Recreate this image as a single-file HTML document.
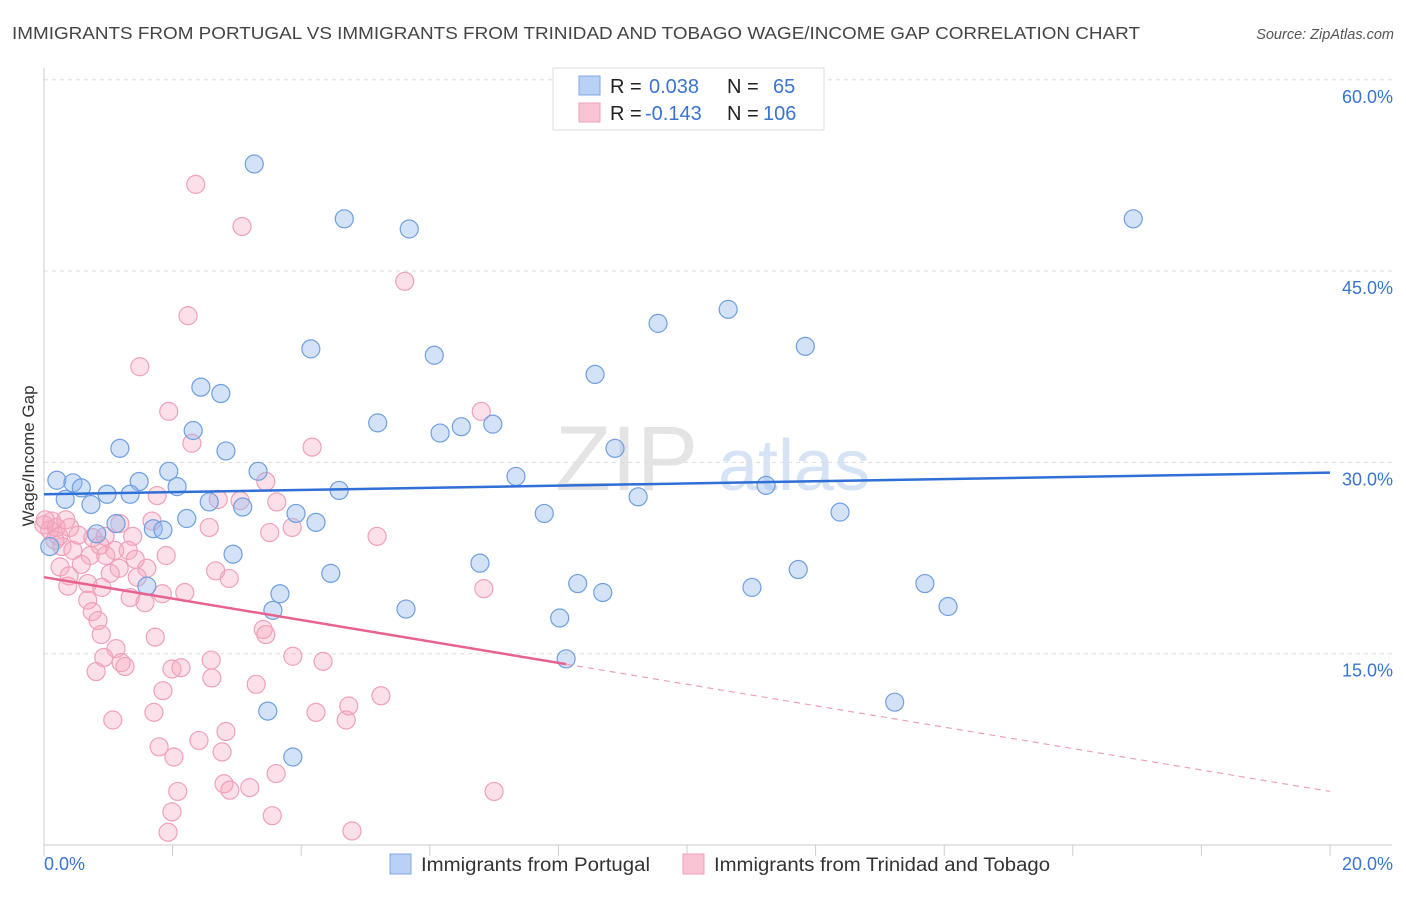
<!DOCTYPE html>
<html><head><meta charset="utf-8"><style>
body{margin:0;background:#fff;font-family:"Liberation Sans",sans-serif}
svg text{font-family:"Liberation Sans",sans-serif}
</style></head><body>
<svg id="chart" width="1406" height="892" viewBox="0 0 1406 892" xmlns="http://www.w3.org/2000/svg">
<text x="12" y="39" font-size="17.5" fill="#444" textLength="1128" lengthAdjust="spacingAndGlyphs">IMMIGRANTS FROM PORTUGAL VS IMMIGRANTS FROM TRINIDAD AND TOBAGO WAGE/INCOME GAP CORRELATION CHART</text>
<text x="1394" y="39" font-size="14.5" fill="#555" font-style="italic" text-anchor="end">Source: ZipAtlas.com</text>
<g>
<text x="555" y="490" font-size="92" font-family="Liberation Serif" fill="#e4e4e4">ZIP</text>
<text x="718" y="490" font-size="72" fill="#d6e3f4">atlas</text>
</g>
<g id="grid"></g><g id="axes"></g><g id="pts"></g><g id="trend"></g>
<text transform="translate(34,456) rotate(-90)" font-size="17" fill="#333" text-anchor="middle">Wage/Income Gap</text>
<g>
<rect x="553" y="68" width="271" height="62" fill="#fff" stroke="#ddd"/>
<rect x="579" y="76" width="21" height="19" fill="#b9d1f4" stroke="#7fa8e4"/>
<rect x="579" y="103" width="21" height="19" fill="#f9c4d4" stroke="#f0a0b8"/>
<text font-size="20" fill="#222"><tspan x="610" y="93">R = </tspan><tspan x="649" fill="#3a74d0">0.038</tspan><tspan x="727">N = </tspan><tspan x="773" fill="#3a74d0">65</tspan></text>
<text font-size="20" fill="#222"><tspan x="610" y="120">R = </tspan><tspan x="645" fill="#3a74d0">-0.143</tspan><tspan x="727">N = </tspan><tspan x="763" fill="#3a74d0">106</tspan></text>
</g>
<g>
<rect x="390" y="854" width="21" height="20" fill="#b9d1f4" stroke="#7fa8e4"/>
<text x="421" y="871" font-size="19" fill="#333" textLength="229" lengthAdjust="spacingAndGlyphs">Immigrants from Portugal</text>
<rect x="683" y="854" width="21" height="20" fill="#f9c4d4" stroke="#f0a0b8"/>
<text x="714" y="871" font-size="19" fill="#333" textLength="336" lengthAdjust="spacingAndGlyphs">Immigrants from Trinidad and Tobago</text>
</g>
</svg>
<script>
const blueX=[3.27,4.67,5.68,16.94,10.64,9.55,4.15,6.07,11.84,8.57,2.44,2.75,5.19,6.16,6.49,6.98,2.32,1.18,2.83,8.88,0.20,0.45,0.58,1.94,3.33,7.34,1.48,2.07,0.98,1.34,4.59,11.23,9.24,0.33,0.73,2.57,3.09,3.92,7.78,12.38,2.22,4.23,1.12,1.70,1.85,0.82,0.09,2.94,6.78,4.46,11.73,8.30,3.67,11.01,8.69,13.70,14.06,5.63,3.56,8.02,8.12,13.23,3.48,3.87,1.60];
const blueY=[53.4,49.1,48.3,49.1,42.0,40.9,38.9,38.4,39.1,36.9,35.9,35.4,33.1,32.3,32.8,33.0,32.5,31.1,30.9,31.1,28.6,28.4,28.0,29.3,29.3,28.9,28.5,28.1,27.5,27.5,27.8,28.2,27.3,27.1,26.7,26.9,26.5,26.0,26.0,26.1,25.6,25.3,25.2,24.8,24.7,24.4,23.4,22.8,22.1,21.3,21.6,20.5,19.7,20.2,19.8,20.5,18.7,18.5,18.4,17.8,14.6,11.2,10.5,6.9,20.3];
const pinkX=[2.36,3.08,5.61,2.24,1.49,1.94,6.80,2.30,4.17,1.76,2.71,3.45,3.62,0.12,0.0,0.19,0.40,1.18,1.68,2.57,0.23,0.53,0.76,0.95,1.38,3.51,3.86,5.18,0.28,0.45,1.10,1.31,1.90,0.72,0.96,0.25,0.58,1.17,1.60,2.67,0.39,1.03,1.45,0.68,2.88,0.37,0.90,1.84,1.34,0.68,1.57,0.75,0.84,6.84,3.41,3.45,0.89,1.73,1.12,0.93,2.60,1.20,1.26,0.81,3.87,4.34,1.99,2.13,2.61,3.30,1.85,5.24,4.74,4.23,4.70,1.71,1.07,2.83,2.41,1.79,2.77,2.02,3.61,2.80,2.89,3.20,2.08,7.00,1.99,3.55,1.93,4.79,2.19,0.09,0.02,0.17,0.34,0.87,1.42,3.05];
const pinkY=[51.8,48.5,44.2,41.5,37.5,34.0,34.0,31.5,31.2,27.4,27.1,28.5,26.9,25.4,25.1,24.9,24.9,25.2,25.4,24.9,24.2,24.3,24.1,24.2,24.2,24.5,24.9,24.2,23.4,23.1,23.1,23.1,22.7,22.7,22.7,21.8,22.0,21.7,21.7,21.5,21.1,21.3,21.0,20.5,20.9,20.3,20.2,19.7,19.4,19.2,19.0,18.3,17.6,20.1,16.9,16.5,16.5,16.3,15.4,14.7,14.5,14.3,14.0,13.6,14.8,14.4,13.8,13.9,13.1,12.6,12.1,11.7,10.9,10.4,9.8,10.4,9.8,8.9,8.2,7.7,7.3,6.9,5.6,4.8,4.3,4.5,4.2,4.2,2.6,2.3,1.0,1.1,19.8,24.7,25.5,23.9,25.5,23.5,22.4,27.0];
const blueTrend=[27.5,29.2];
const pinkTrend=[21.0,4.2];
const pinkSolidEnd=8.12;
const yTicks=[15,30,45,60];
const xTickLabels=["0.0%","20.0%"];
const NS="http://www.w3.org/2000/svg";
const X=v=>44+v/20*1286, Y=v=>845-v/15*191.3;
function mk(tag,attrs,parent){const e=document.createElementNS(NS,tag);for(const k in attrs)e.setAttribute(k,attrs[k]);document.getElementById(parent).appendChild(e);return e;}
yTicks.forEach(t=>{
 const l=mk('line',{x1:44,x2:1392,y1:Y(t),y2:Y(t),stroke:'#ddd','stroke-dasharray':'4,4'},'grid');
 
 
 const tx=mk('text',{x:1393,y:Y(t)+23,'font-size':18,fill:'#3a74d0','text-anchor':'end'},'grid');
 tx.textContent=t.toFixed(1)+'%';
 
 
});
const ax=mk('line',{x1:44,x2:44,y1:68,y2:845,stroke:'#ccc'},'axes');


const bx=mk('line',{x1:44,x2:1392,y1:845,y2:845,stroke:'#ccc'},'axes');


for(let i=0;i<=10;i++){const t=mk('line',{x1:X(i*2),x2:X(i*2),y1:845,y2:856,stroke:'#ccc'},'axes');
 
 }
[[0,'start',44],[20,'end',1393]].forEach((d,i)=>{const t=mk('text',{x:d[2],y:870,'font-size':18,fill:'#3a74d0','text-anchor':d[1]},'axes');t.textContent=xTickLabels[i];
 
 });
function dots(xs,ys,fill,stroke,name){xs.forEach((x,i)=>{const c=mk('circle',{cx:X(x),cy:Y(ys[i]),r:9,fill:fill,stroke:stroke,'stroke-width':1.2},'pts');
 
 });}
dots(pinkX,pinkY,'rgba(245,165,192,0.35)','#f0a0b8','point-trinidad');
dots(blueX,blueY,'rgba(150,185,235,0.42)','#6f9fe0','point-portugal');
const bt=mk('line',{x1:X(0),y1:Y(blueTrend[0]),x2:X(20),y2:Y(blueTrend[1]),stroke:'#2f6fd6','stroke-width':2.5},'trend');


const pAt=x=>pinkTrend[0]+(pinkTrend[1]-pinkTrend[0])*x/20;
const ps=mk('line',{x1:X(0),y1:Y(pinkTrend[0]),x2:X(pinkSolidEnd),y2:Y(pAt(pinkSolidEnd)),stroke:'#e8628e','stroke-width':2.5},'trend');


const pd=mk('line',{x1:X(pinkSolidEnd),y1:Y(pAt(pinkSolidEnd)),x2:X(20),y2:Y(pinkTrend[1]),stroke:'#f0a0b8','stroke-width':1.2,'stroke-dasharray':'6,5'},'trend');


</script>
</body></html>
